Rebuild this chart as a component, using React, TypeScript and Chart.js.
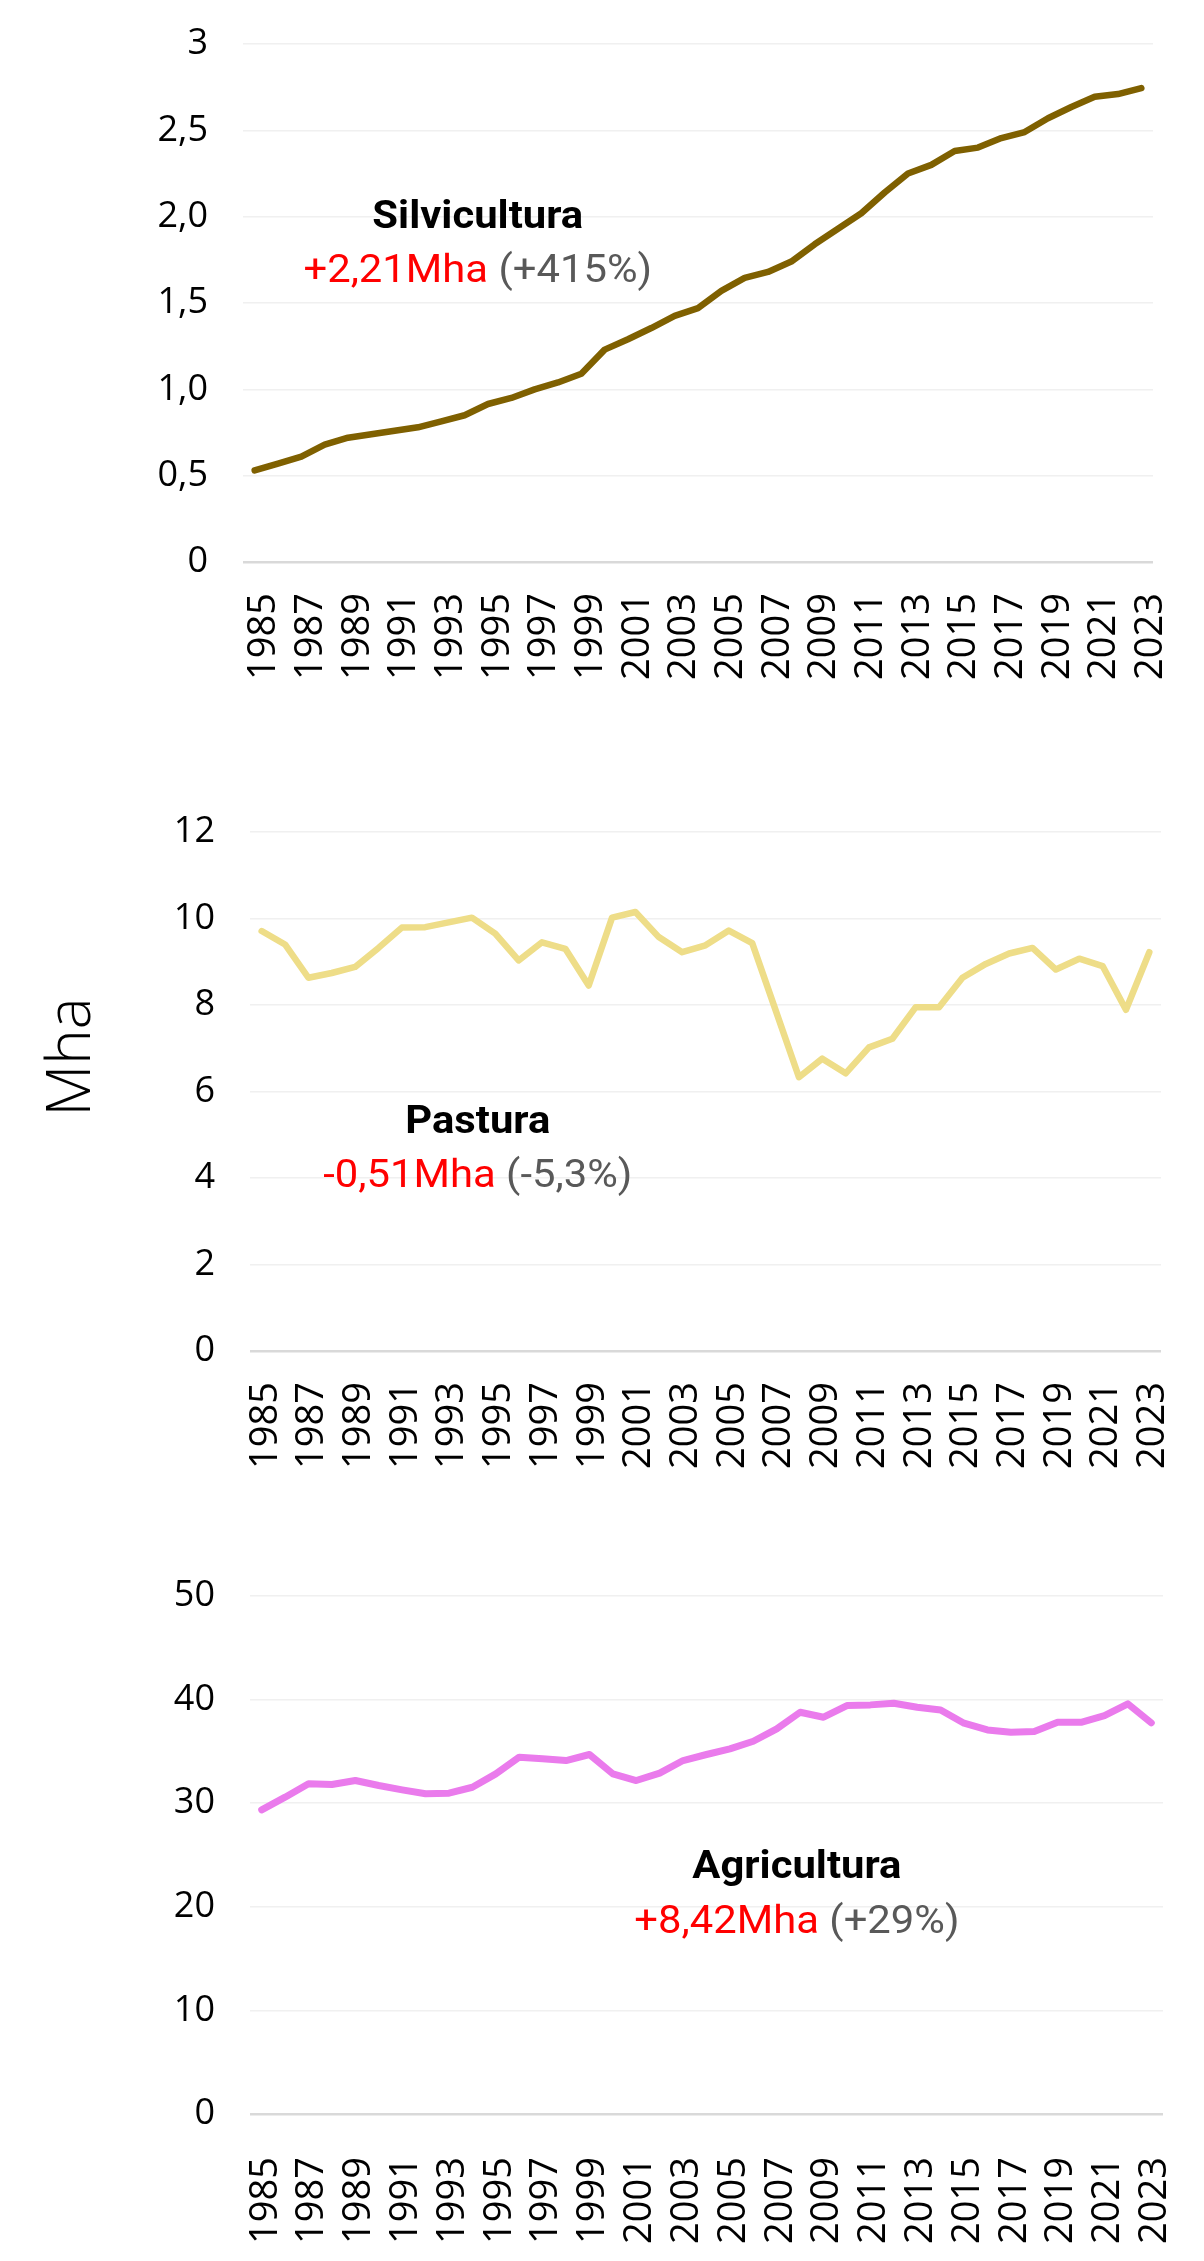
import React, { useEffect, useRef } from 'react';
import { Chart, registerables } from 'chart.js';

Chart.register(...registerables);

// ---------- DATA ----------
const years = [
  '1985', '1986', '1987', '1988', '1989', '1990', '1991', '1992', '1993', '1994',
  '1995', '1996', '1997', '1998', '1999', '2000', '2001', '2002', '2003', '2004',
  '2005', '2006', '2007', '2008', '2009', '2010', '2011', '2012', '2013', '2014',
  '2015', '2016', '2017', '2018', '2019', '2020', '2021', '2022', '2023',
];

const silvicultura = [
  0.53, 0.57, 0.61, 0.68, 0.72, 0.74, 0.76, 0.78, 0.815, 0.85,
  0.915, 0.95, 1.0, 1.04, 1.09, 1.23, 1.29, 1.355, 1.425, 1.47,
  1.57, 1.645, 1.68, 1.74, 1.84, 1.93, 2.02, 2.14, 2.25, 2.3,
  2.38, 2.4, 2.455, 2.49, 2.57, 2.635, 2.695, 2.71, 2.745,
];

const pastura = [
  9.71, 9.4, 8.63, 8.74, 8.88, 9.32, 9.79, 9.8, 9.91, 10.02,
  9.65, 9.03, 9.45, 9.3, 8.45, 10.02, 10.15, 9.57, 9.22, 9.38,
  9.72, 9.43, 7.88, 6.33, 6.76, 6.42, 7.02, 7.22, 7.95, 7.95,
  8.63, 8.95, 9.19, 9.32, 8.82, 9.07, 8.9, 7.89, 9.22,
];

const agricultura = [
  29.36, 30.58, 31.87, 31.8, 32.19, 31.71, 31.29, 30.91, 30.97, 31.54,
  32.83, 34.44, 34.28, 34.12, 34.7, 32.83, 32.19, 32.9, 34.12, 34.7,
  35.24, 35.98, 37.17, 38.78, 38.3, 39.42, 39.49, 39.65, 39.26, 39.0,
  37.72, 37.07, 36.85, 36.91, 37.81, 37.81, 38.46, 39.59, 37.75,
];

const silviYTicks = ['0', '0,5', '1,0', '1,5', '2,0', '2,5', '3'];
const pasturaYTicks = ['0', '2', '4', '6', '8', '10', '12'];
const agriYTicks = ['0', '10', '20', '30', '40', '50'];

const axisTitle = 'Mha';

// ---------- PANEL ----------
type Area = { left: number; right: number; top: number; bottom: number };
type Note = { title: string; delta: string; pct: string; fx: number; fy1: number; fy2: number };

type PanelProps = {
  top: number;
  height: number;
  data: number[];
  color: string;
  lineWidth: number;
  yMax: number;
  yStep: number;
  yTicks: string[];
  area: Area; // page coordinates of the plot area
  xPad: number;
  labelOffset: number;
  note: Note;
  showAxisTitle?: boolean;
};

const W = 1204;
const TEXT_STRETCH = 1.1;

function Panel(props: PanelProps) {
  const ref = useRef<HTMLCanvasElement | null>(null);

  useEffect(() => {
    const canvas = ref.current;
    if (!canvas) return;
    const { data, color, lineWidth, yMax, yStep, yTicks, area, xPad, labelOffset, note, height, top, showAxisTitle } = props;

    const notePlugin = {
      id: 'notes',
      afterDraw(chart: any) {
        const ctx = chart.ctx as CanvasRenderingContext2D;
        const ca = chart.chartArea;
        const w = ca.right - ca.left;
        const h = ca.bottom - ca.top;
        const cx = ca.left + note.fx * w;

        ctx.save();
        ctx.textBaseline = 'alphabetic';
        ctx.translate(cx, ca.top + note.fy1 * h);
        ctx.scale(TEXT_STRETCH, 1);
        ctx.textAlign = 'center';
        ctx.fillStyle = '#000000';
        ctx.font = 'bold 38px Roboto';
        ctx.fillText(note.title, 0, 0);
        ctx.restore();

        ctx.save();
        ctx.textBaseline = 'alphabetic';
        ctx.translate(cx, ca.top + note.fy2 * h);
        ctx.scale(TEXT_STRETCH, 1);
        ctx.font = '38px Roboto';
        const part1 = note.delta;
        const part2 = ' ' + note.pct;
        const w1 = ctx.measureText(part1).width;
        const w2 = ctx.measureText(part2).width;
        const startX = -(w1 + w2) / 2;
        ctx.textAlign = 'left';
        ctx.fillStyle = '#FF0000';
        ctx.fillText(part1, startX, 0);
        ctx.fillStyle = '#595959';
        ctx.fillText(part2, startX + w1, 0);
        ctx.restore();

        if (showAxisTitle) {
          ctx.save();
          ctx.translate(90, 1057 - top);
          ctx.rotate(-Math.PI / 2);
          ctx.textAlign = 'center';
          ctx.textBaseline = 'alphabetic';
          ctx.fillStyle = '#000000';
          ctx.font = '300 60px "Open Sans"';
          ctx.fillText(axisTitle, 0, 0);
          ctx.restore();
        }
      },
    };

    const chart = new Chart(canvas, {
      type: 'line',
      data: {
        labels: years,
        datasets: [
          {
            data,
            borderColor: color,
            backgroundColor: color,
            borderWidth: lineWidth,
            pointRadius: 0,
            tension: 0,
            fill: false,
            borderCapStyle: 'round',
            borderJoinStyle: 'round',
          },
        ],
      },
      options: {
        animation: false,
        responsive: false,
        maintainAspectRatio: false,
        devicePixelRatio: 1,
        layout: { padding: { left: 0, top: area.top - top, right: W - area.right, bottom: 0 } },
        plugins: { legend: { display: false }, tooltip: { enabled: false } },
        scales: {
          x: {
            offset: true,
            grid: { display: false, drawTicks: false },
            border: { display: false },
            ticks: {
              autoSkip: false,
              minRotation: 90,
              maxRotation: 90,
              padding: xPad,
              labelOffset,
              color: '#000000',
              font: { family: '"Open Sans"', size: 38 },
              callback: (_v: any, i: number) => (i % 2 === 0 ? years[i] : ''),
            },
            afterFit: (s: any) => {
              s.height = top + height - area.bottom;
              s.paddingLeft = 0;
              s.paddingRight = 0;
              s.paddingTop = 0;
              s.paddingBottom = 0;
            },
          },
          y: {
            min: 0,
            max: yMax,
            grid: {
              color: (c: any) => (c.tick && c.tick.value === 0 ? '#D9D9D9' : '#F0F0F0'),
              lineWidth: (c: any) => (c.tick && c.tick.value === 0 ? 2.5 : 1.5),
              drawTicks: false,
            },
            border: { display: false },
            ticks: {
              stepSize: yStep,
              padding: 35,
              color: '#000000',
              font: { family: '"Open Sans"', size: 36 },
              callback: (_v: any, i: number) => yTicks[i],
            },
            afterFit: (s: any) => {
              s.width = area.left;
              s.paddingLeft = 0;
              s.paddingRight = 0;
              s.paddingTop = 0;
              s.paddingBottom = 0;
            },
          },
        },
      },
      plugins: [notePlugin],
    } as any);

    return () => chart.destroy();
  }, []);

  return (
    <canvas
      ref={ref}
      width={W}
      height={props.height}
      style={{ position: 'absolute', left: 0, top: props.top, width: W, height: props.height }}
    />
  );
}

export default function App() {
  return (
    <div style={{ position: 'absolute', left: 0, top: 0, width: W, height: 2261, background: '#ffffff' }}>
      <Panel
        top={0}
        height={720}
        data={silvicultura}
        color="#7F6000"
        lineWidth={6.5}
        yMax={3}
        yStep={0.5}
        yTicks={silviYTicks}
        area={{ left: 243, right: 1153, top: 44, bottom: 562 }}
        xPad={31}
        labelOffset={10}
        note={{ title: 'Silvicultura', delta: '+2,21Mha', pct: '(+415%)', fx: 0.258, fy1: 0.356, fy2: 0.46 }}
      />
      <Panel
        top={760}
        height={720}
        data={pastura}
        color="#EEDD88"
        lineWidth={6.5}
        yMax={12}
        yStep={2}
        yTicks={pasturaYTicks}
        area={{ left: 250, right: 1161, top: 832, bottom: 1351 }}
        xPad={31}
        labelOffset={4}
        note={{ title: 'Pastura', delta: '-0,51Mha', pct: '(-5,3%)', fx: 0.25, fy1: 0.5795, fy2: 0.6837 }}
        showAxisTitle
      />
      <Panel
        top={1540}
        height={721}
        data={agricultura}
        color="#EA7BEC"
        lineWidth={7}
        yMax={50}
        yStep={10}
        yTicks={agriYTicks}
        area={{ left: 250, right: 1163, top: 1596, bottom: 2114 }}
        xPad={43}
        labelOffset={4}
        note={{ title: 'Agricultura', delta: '+8,42Mha', pct: '(+29%)', fx: 0.599, fy1: 0.544, fy2: 0.6506 }}
      />
    </div>
  );
}
